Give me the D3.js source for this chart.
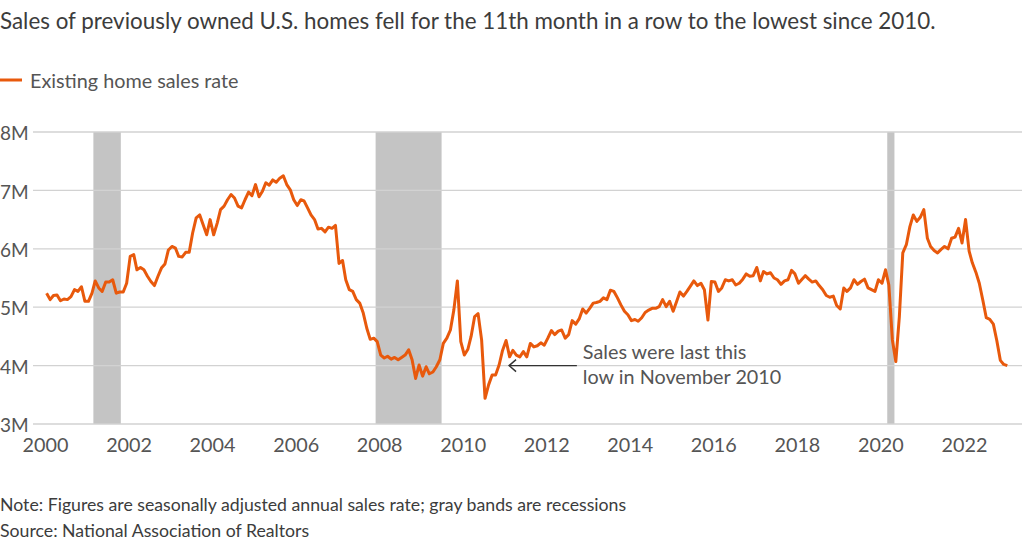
<!DOCTYPE html>
<html>
<head>
<meta charset="utf-8">
<script src="https://cdn.jsdelivr.net/npm/d3@7"></script>
<style>
  html, body { margin: 0; padding: 0; background: #fff; }
  svg { display: block; font-family: Lato, "Source Sans Pro", sans-serif; }
</style>
</head>
<body>
<svg id="chart" width="1024" height="547"></svg>
<script>
// ---- Data (millions, seasonally adjusted annual rate, monthly) ----
const sales2000 = [5.24, 5.13, 5.20, 5.21, 5.11, 5.14, 5.13, 5.18, 5.30, 5.27, 5.35, 5.10];
const sales2001 = [5.10, 5.24, 5.45, 5.33, 5.27, 5.43, 5.43, 5.47, 5.24, 5.26, 5.26, 5.41];
const sales2002 = [5.87, 5.90, 5.64, 5.68, 5.64, 5.53, 5.44, 5.37, 5.53, 5.67, 5.74, 5.98];
const sales2003 = [6.04, 6.01, 5.87, 5.86, 5.94, 5.94, 6.27, 6.53, 6.58, 6.41, 6.24, 6.50];
const sales2004 = [6.24, 6.44, 6.67, 6.73, 6.84, 6.93, 6.87, 6.73, 6.70, 6.84, 6.97, 6.91];
const sales2005 = [7.10, 6.89, 6.98, 7.13, 7.09, 7.18, 7.14, 7.21, 7.25, 7.10, 7.01, 6.84];
const sales2006 = [6.74, 6.84, 6.82, 6.70, 6.58, 6.50, 6.34, 6.35, 6.29, 6.37, 6.35, 6.40];
const sales2007 = [5.75, 5.80, 5.47, 5.30, 5.27, 5.13, 5.07, 4.90, 4.64, 4.45, 4.47, 4.41];
const sales2008 = [4.18, 4.13, 4.16, 4.11, 4.14, 4.10, 4.14, 4.18, 4.27, 4.10, 3.78, 4.01];
const sales2009 = [3.82, 3.98, 3.86, 3.89, 3.98, 4.10, 4.38, 4.47, 4.61, 4.95, 5.45, 4.41];
const sales2010 = [4.18, 4.28, 4.50, 4.84, 4.89, 4.44, 3.44, 3.67, 3.84, 3.84, 4.01, 4.26];
const sales2011 = [4.43, 4.15, 4.26, 4.18, 4.15, 4.24, 4.15, 4.38, 4.32, 4.34, 4.39, 4.35];
const sales2012 = [4.47, 4.60, 4.53, 4.59, 4.61, 4.47, 4.53, 4.77, 4.71, 4.80, 4.97, 4.90];
const sales2013 = [4.98, 5.07, 5.08, 5.10, 5.16, 5.13, 5.29, 5.27, 5.16, 5.04, 4.93, 4.87];
const sales2014 = [4.77, 4.79, 4.76, 4.82, 4.91, 4.95, 4.98, 4.98, 5.01, 5.13, 5.01, 5.10];
const sales2015 = [4.93, 5.10, 5.26, 5.19, 5.27, 5.36, 5.45, 5.37, 5.41, 5.30, 4.78, 5.44];
const sales2016 = [5.43, 5.27, 5.33, 5.47, 5.45, 5.47, 5.38, 5.41, 5.48, 5.57, 5.53, 5.54];
const sales2017 = [5.68, 5.45, 5.61, 5.57, 5.59, 5.50, 5.47, 5.39, 5.45, 5.47, 5.63, 5.57];
const sales2018 = [5.41, 5.48, 5.54, 5.48, 5.43, 5.45, 5.37, 5.30, 5.20, 5.17, 5.19, 5.03];
const sales2019 = [4.97, 5.33, 5.27, 5.33, 5.47, 5.39, 5.44, 5.48, 5.33, 5.30, 5.27, 5.47];
const sales2020 = [5.41, 5.64, 5.38, 4.44, 4.07, 4.84, 5.93, 6.07, 6.38, 6.58, 6.47, 6.54];
const sales2021 = [6.67, 6.18, 6.04, 5.97, 5.93, 5.99, 6.04, 6.00, 6.18, 6.20, 6.35, 6.10];
const sales2022 = [6.50, 5.96, 5.76, 5.60, 5.41, 5.12, 4.82, 4.79, 4.71, 4.43, 4.09, 4.02];
const sales2023 = [4.00];

const startYear = 2000;
const yTicks = [3, 4, 5, 6, 7, 8];
const yTickLabels = ["3M", "4M", "5M", "6M", "7M", "8M"];
const xTickYears = [2000, 2002, 2004, 2006, 2008, 2010, 2012, 2014, 2016, 2018, 2020, 2022];

const recessionStarts = ["2001-02-27", "2007-12-01", "2020-03-01"];
const recessionEnds   = ["2001-10-25", "2009-06-30", "2020-05-03"];

const titleText = "Sales of previously owned U.S. homes fell for the 11th month in a row to the lowest since 2010.";
const legendText = "Existing home sales rate";
const noteText = "Note: Figures are seasonally adjusted annual sales rate; gray bands are recessions";
const sourceText = "Source: National Association of Realtors";
const annotationLines = ["Sales were last this", "low in November 2010"];

// ---- Build series ----
const yearly = [sales2000, sales2001, sales2002, sales2003, sales2004, sales2005, sales2006,
  sales2007, sales2008, sales2009, sales2010, sales2011, sales2012, sales2013, sales2014,
  sales2015, sales2016, sales2017, sales2018, sales2019, sales2020, sales2021, sales2022, sales2023];
const series = [];
yearly.forEach((arr, i) => arr.forEach((v, m) => series.push({ date: new Date(startYear + i, m, 15), value: v })));

// ---- Layout ----
const ORANGE = "#e8590c";
const TXT = "#555";
const svg = d3.select("#chart");

const x = d3.scaleTime()
  .domain([new Date(2000, 0, 1), new Date(2023, 0, 1)])
  .range([45, 45 + 23 * 41.77]);
const y = d3.scaleLinear().domain([3, 8]).range([424, 132]);

// Title
svg.append("text").attr("x", 0).attr("y", 29)
  .attr("font-size", 22.4).attr("fill", "#3c3c3c").text(titleText);

// Legend
svg.append("line").attr("x1", 0).attr("x2", 22).attr("y1", 80).attr("y2", 80)
  .attr("stroke", ORANGE).attr("stroke-width", 3);
svg.append("text").attr("x", 30).attr("y", 88)
  .attr("font-size", 19.8).attr("fill", TXT).text(legendText);

// Recession bands
svg.append("g").selectAll("rect")
  .data(recessionStarts.map((s, i) => ({ s: new Date(s + "T00:00:00"), e: new Date(recessionEnds[i] + "T00:00:00") })))
  .join("rect")
  .attr("x", d => x(d.s))
  .attr("width", d => x(d.e) - x(d.s))
  .attr("y", y(8))
  .attr("height", y(3) - y(8))
  .attr("fill", "#c4c4c4");

// Y axis labels
const yAxis = d3.axisLeft(y).tickValues(yTicks).tickFormat((d, i) => yTickLabels[i])
  .tickSize(0).tickPadding(0);
const gy = svg.append("g").call(yAxis);
gy.select(".domain").remove();
gy.selectAll("text").attr("font-size", 19).attr("fill", TXT).attr("font-family", "Lato, sans-serif")
  .attr("dy", "0.4em").attr("text-anchor", "start").attr("x", 0);

// Gridlines
svg.append("g").selectAll("line").data(yTicks).join("line")
  .attr("x1", 33).attr("x2", 1022)
  .attr("y1", d => y(d)).attr("y2", d => y(d))
  .attr("stroke", "#d2d2d2").attr("stroke-width", 1.3);

// X axis
const xAxis = d3.axisBottom(x)
  .tickValues(xTickYears.map(yr => new Date(yr, 0, 1)))
  .tickFormat(d3.timeFormat("%Y"))
  .tickSize(0).tickPadding(0);
const gx = svg.append("g").attr("transform", "translate(0,438)").call(xAxis);
gx.select(".domain").remove();
gx.selectAll("text").attr("font-size", 19.8).attr("fill", TXT).attr("font-family", "Lato, sans-serif")
  .attr("dy", "0.71em");

// Line
const line = d3.line().x(d => x(d.date)).y(d => y(d.value));
svg.append("path").datum(series)
  .attr("d", line)
  .attr("fill", "none")
  .attr("stroke", ORANGE)
  .attr("stroke-width", 3)
  .attr("stroke-linejoin", "round");

// Annotation
const annTip = { date: new Date(2011, 1, 10), value: 4.0 };
const annTail = { date: new Date(2012, 8, 25), value: 4.0 };
const ax1 = x(annTip.date), ax2 = x(annTail.date), ay = y(annTip.value);
const ag = svg.append("g").attr("stroke", "#333").attr("stroke-width", 1.4).attr("fill", "none");
ag.append("line").attr("x1", ax1).attr("x2", ax2).attr("y1", ay).attr("y2", ay);
ag.append("path").attr("d", `M${ax1 + 7},${ay - 6} L${ax1},${ay} L${ax1 + 7},${ay + 6}`);
annotationLines.forEach((t, i) => {
  svg.append("text").attr("x", ax2 + 6).attr("y", ay - 7 + i * 25)
    .attr("font-size", 19.8).attr("fill", TXT).text(t);
});

// Footer
svg.append("text").attr("x", 0).attr("y", 511).attr("font-size", 17.7).attr("fill", "#3c3c3c").text(noteText);
svg.append("text").attr("x", 0).attr("y", 537).attr("font-size", 17.7).attr("fill", "#3c3c3c").text(sourceText);
</script>
</body>
</html>
